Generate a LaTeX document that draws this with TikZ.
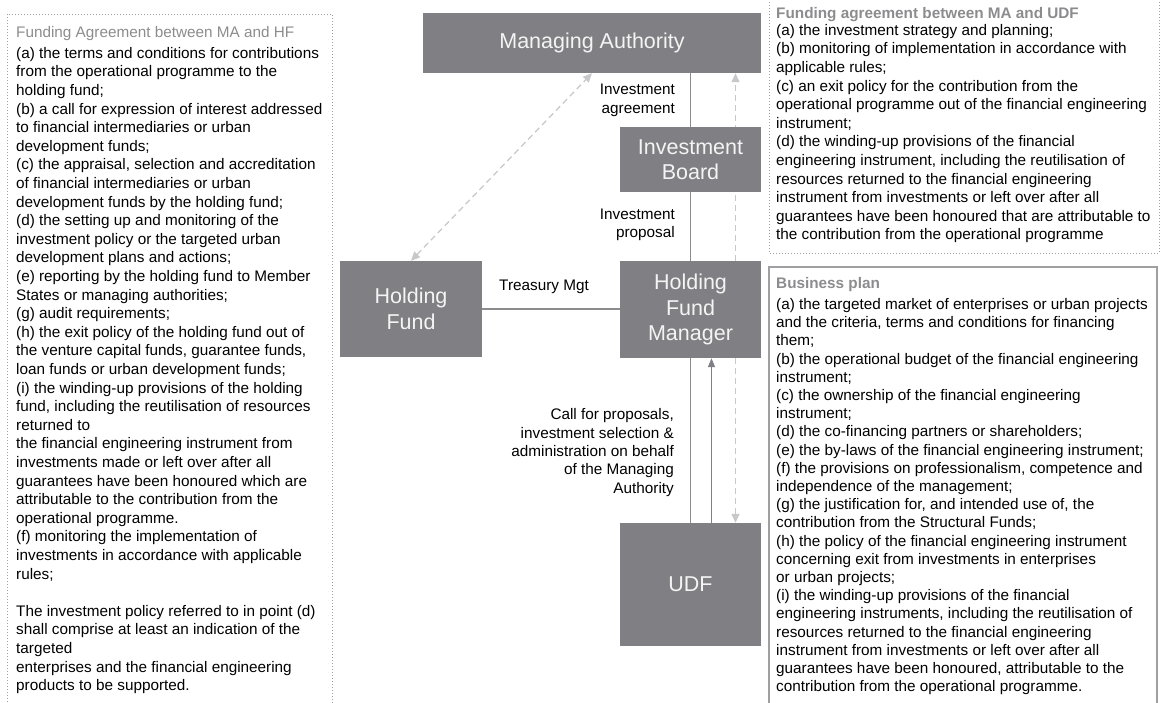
\documentclass[tikz,border=0pt]{standalone}
\usepackage{fontspec}
\setmainfont{Liberation Sans}
\usetikzlibrary{arrows.meta,positioning,backgrounds}
\definecolor{unitgray}{RGB}{128,128,132}
\definecolor{unittext}{RGB}{244,244,244}
\definecolor{linkgray}{RGB}{140,140,142}
\definecolor{softgray}{RGB}{200,200,202}
\definecolor{framegray}{RGB}{160,160,162}
\definecolor{headgray}{RGB}{140,140,142}
\newcommand{\bodyfont}{\fontsize{15.3}{18.4}\selectfont}
\newcommand{\unitfont}{\fontsize{21.5}{25.5}\selectfont}

\begin{document}
\begin{tikzpicture}[x=1pt, y=-1pt,
  unit/.style={fill=unitgray, text=unittext, font=\unitfont, align=center, inner sep=0pt},
  lbl/.style={font=\bodyfont, align=right, anchor=east, inner sep=0pt},
  txt/.style={font={\fontsize{15.3}{#1}\selectfont}, align=left, anchor=north west, inner sep=0pt,
              yshift={0.7*#1}, execute at begin node=\strut},
  head/.style={font=\bodyfont, text=headgray, anchor=base west, inner sep=0pt},
  link/.style={draw=linkgray, line width=1.3pt},
  soft/.style={draw=softgray, line width=1.3pt, dash pattern=on 6pt off 4pt},
  arr/.style={-{Triangle[length=9pt,width=7pt]}, draw=unitgray, line width=1.5pt}
]
\useasboundingbox (0,0) rectangle (1164,702);

% frames of the three text panels
\draw[framegray, line width=1pt, dotted] (7,720) |- (332,14) -- (332,720);
\draw[framegray, line width=1pt, dotted] (769,-10) |- (1159,253) -- (1159,-10);
\draw[framegray, line width=1.5pt] (769,720) |- (1157,267) -- (1157,720);

% units
\node[unit, minimum width=338pt, minimum height=60pt] (ma) at (592,43) {Managing Authority};
\node[unit, minimum width=141pt, minimum height=65pt] (ib) at (690.5,159.5) {Investment\\Board};
\node[unit, minimum width=141pt, minimum height=97pt] (hfm) at (690.5,309.5) {Holding\\Fund\\Manager};
\node[unit, minimum width=142pt, minimum height=96pt] (hf) at (411,309) {Holding\\Fund};
\node[unit, minimum width=141pt, minimum height=123pt] (udf) at (690.5,584.5) {UDF};

% links
\begin{scope}[on background layer]
\draw[soft, -{Triangle[length=9pt,width=8pt]}] ([xshift=45pt]hfm.north) -- ([xshift=45pt]hfm.north |- ma.south);
\end{scope}
\draw[link] (ib.north) -- (ib.north |- ma.south);
\draw[link] (hfm.north) -- (ib.south);
\draw[soft, {Triangle[length=9pt,width=8pt]}-{Triangle[length=9pt,width=8pt]}] (hf.north) -- (ma.south);
\draw[link] (hf.east) -- (hf.east -| hfm.west);
\draw[link] (udf.north) -- (hfm.south);
\draw[arr] ([xshift=21pt]udf.north) -- ([xshift=21pt]hfm.south);
\draw[soft, -{Triangle[length=9pt,width=8pt]}] ([xshift=45pt]hfm.south) -- ([xshift=45pt]udf.north);

% link labels
\node[lbl] (agr) at (675,100.5) {Investment\\agreement};
\node[lbl] (prop) at (675,225) {Investment\\proposal};
\node[font=\bodyfont, inner sep=0pt] (tm) at (544,287) {Treasury Mgt};
\node[lbl] (call) at (674,452.5) {Call for proposals,\\investment selection \&\\administration on behalf\\of the Managing\\Authority};

% text panels
\node[head] (hfhead) at (16,37) {Funding Agreement between MA and HF};
\node[txt=18.6] (hftext) at (16,60) {(a) the terms and conditions for contributions\\
from the operational programme to the\\
holding fund;\\
(b) a call for expression of interest addressed\\
to financial intermediaries or urban\\
development funds;\\
(c) the appraisal, selection and accreditation\\
of financial intermediaries or urban\\
development funds by the holding fund;\\
(d) the setting up and monitoring of the\\
investment policy or the targeted urban\\
development plans and actions;\\
(e) reporting by the holding fund to Member\\
States or managing authorities;\\
(g) audit requirements;\\
(h) the exit policy of the holding fund out of\\
the venture capital funds, guarantee funds,\\
loan funds or urban development funds;\\
(i) the winding-up provisions of the holding\\
fund, including the reutilisation of resources\\
returned to\\
the financial engineering instrument from\\
investments made or left over after all\\
guarantees have been honoured which are\\
attributable to the contribution from the\\
operational programme.\\
(f) monitoring the implementation of\\
investments in accordance with applicable\\
rules;\\
\mbox{}\\
The investment policy referred to in point (d)\\
shall comprise at least an indication of the\\
targeted\\
enterprises and the financial engineering\\
products to be supported.};

\node[head, font=\bodyfont\bfseries] (udfhead) at (776,18) {Funding agreement between MA and UDF};
\node[txt=18.6] (udftext) at (776,37) {(a) the investment strategy and planning;\\
(b) monitoring of implementation in accordance with\\
applicable rules;\\
(c) an exit policy for the contribution from the\\
operational programme out of the financial engineering\\
instrument;\\
(d) the winding-up provisions of the financial\\
engineering instrument, including the reutilisation of\\
resources returned to the financial engineering\\
instrument from investments or left over after all\\
guarantees have been honoured that are attributable to\\
the contribution from the operational programme};

\node[head, font=\bodyfont\bfseries] (bphead) at (776,288) {Business plan};
\node[txt=18.2] (bptext) at (776,311) {(a) the targeted market of enterprises or urban projects\\
and the criteria, terms and conditions for financing\\
them;\\
(b) the operational budget of the financial engineering\\
instrument;\\
(c) the ownership of the financial engineering\\
instrument;\\
(d) the co-financing partners or shareholders;\\
(e) the by-laws of the financial engineering instrument;\\
(f) the provisions on professionalism, competence and\\
independence of the management;\\
(g) the justification for, and intended use of, the\\
contribution from the Structural Funds;\\
(h) the policy of the financial engineering instrument\\
concerning exit from investments in enterprises\\
or urban projects;\\
(i) the winding-up provisions of the financial\\
engineering instruments, including the reutilisation of\\
resources returned to the financial engineering\\
instrument from investments or left over after all\\
guarantees have been honoured, attributable to the\\
contribution from the operational programme.};
\end{tikzpicture}
\end{document}
